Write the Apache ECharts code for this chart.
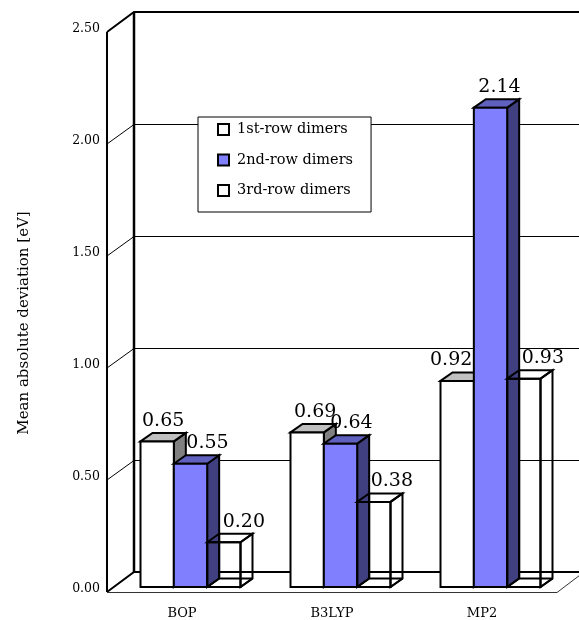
<!DOCTYPE html>
<html>
<head>
<meta charset="utf-8">
<style>
  html, body { margin: 0; padding: 0; background: #fff; }
  #chart { width: 579px; height: 620px; }
</style>
<script src="https://cdn.jsdelivr.net/npm/echarts@6/dist/echarts.min.js"></script>
</head>
<body>
<div id="chart"></div>
<script>
const categories = ['BOP', 'B3LYP', 'MP2']
const firstRow = [0.65, 0.69, 0.92]
const secondRow = [0.55, 0.64, 2.14]
const thirdRow = [0.20, 0.38, 0.93]
const yTicks = [0, 0.5, 1, 1.5, 2, 2.5]

const FONT = 'DejaVu Serif'
// depth of the box and of the bars, in px
const WALL_DX = 27
const WALL_DY = -20
const BAR_DX = 12
const BAR_DY = -8.5
const BAR_SHIFT_X = 8.5
const BAR_SHIFT_Y = -5
// labels were moved by hand in the original so they do not collide
const labelNudge = [
  [0, 2, -12],
  [11, 5, 3],
  [14, 12, 13]
]

const myChart = echarts.init(document.getElementById('chart'), null, { renderer: 'canvas' })

function wallItem(params, api) {
  const sys = params.coordSys
  const value = api.value(0)
  const y = api.coord([0, value])[1]
  const left = sys.x
  const right = sys.x + sys.width
  const isEdge = value === 0 || value === 2.5
  const backY = y + WALL_DY + (isEdge ? 0 : 0.5)
  const children = [{
    type: 'polyline',
    shape: {
      points: [[left, y], [left + WALL_DX, backY], [right + WALL_DX, backY]]
    },
    style: { stroke: '#000', lineWidth: isEdge ? 2 : 1, fill: null }
  }]
  if (value === 0) {
    children.push({
      type: 'polyline',
      shape: { points: [[left, y + 0.5], [right, y + 0.5], [right + WALL_DX, y + WALL_DY]] },
      style: { stroke: '#333', lineWidth: 1, fill: null }
    })
    children.push({
      type: 'line',
      shape: { x1: left, y1: y, x2: left, y2: sys.y },
      style: { stroke: '#000', lineWidth: 2 }
    })
    children.push({
      type: 'line',
      shape: { x1: left + WALL_DX, y1: y + WALL_DY, x2: left + WALL_DX, y2: sys.y + WALL_DY },
      style: { stroke: '#000', lineWidth: 2.5 }
    })
  }
  return { type: 'group', children }
}

function barRenderer(seriesIndex, front, top, side) {
  return function (params, api) {
    const cat = api.value(0)
    const value = api.value(1)
    const band = api.size([1, 0])[0]
    const w = band * 2 / 9
    const center = api.coord([cat, value])
    const base = api.coord([cat, 0])
    const x0 = center[0] + BAR_SHIFT_X + (seriesIndex - 1.5) * w
    const x1 = x0 + w
    const yTop = center[1] + BAR_SHIFT_Y
    const yBase = base[1] + BAR_SHIFT_Y
    const edge = { stroke: '#000', lineWidth: 2, lineJoin: 'miter' }
    const children = []
    // back edges only show on the see-through bars
    if (front === 'none') {
      children.push({
        type: 'polyline',
        shape: { points: [[x0, yBase], [x0 + BAR_DX, yBase + BAR_DY], [x1 + BAR_DX, yBase + BAR_DY]] },
        style: Object.assign({ fill: null }, edge)
      })
      children.push({
        type: 'line',
        shape: { x1: x0 + BAR_DX, y1: yBase + BAR_DY, x2: x0 + BAR_DX, y2: yTop + BAR_DY },
        style: edge
      })
      children.push({
        type: 'line',
        shape: { x1: x1, y1: yBase, x2: x1 + BAR_DX, y2: yBase + BAR_DY },
        style: edge
      })
    }
    children.push({
      type: 'polygon',
      shape: { points: [[x1, yBase], [x1 + BAR_DX, yBase + BAR_DY], [x1 + BAR_DX, yTop + BAR_DY], [x1, yTop]] },
      style: Object.assign({ fill: side }, edge)
    })
    children.push({
      type: 'polygon',
      shape: { points: [[x0, yTop], [x0 + BAR_DX, yTop + BAR_DY], [x1 + BAR_DX, yTop + BAR_DY], [x1, yTop]] },
      style: Object.assign({ fill: top }, edge)
    })
    children.push({
      type: 'rect',
      shape: { x: x0, y: yTop, width: w, height: yBase - yTop },
      style: Object.assign({ fill: front }, edge)
    })
    children.push({
      type: 'text',
      z2: 50,
      style: {
        text: value.toFixed(2),
        x: x0 + w / 2 + BAR_DX / 2 + labelNudge[seriesIndex][cat],
        y: yTop + BAR_DY - 12,
        align: 'center',
        verticalAlign: 'middle',
        fill: '#000',
        font: '19px "' + FONT + '"'
      }
    })
    return { type: 'group', children }
  }
}

function barData(values) {
  return values.map((v, i) => [i, v])
}

const option = {
  backgroundColor: '#fff',
  animation: false,
  textStyle: { fontFamily: FONT, color: '#000' },
  grid: { left: 107, top: 32, width: 450, height: 560 },
  legend: {
    orient: 'vertical',
    left: 198,
    top: 117,
    padding: [5, 18, 14, 19],
    itemWidth: 11,
    itemHeight: 11,
    itemGap: 15.5,
    backgroundColor: '#fff',
    borderColor: '#000',
    borderWidth: 1,
    textStyle: { fontFamily: FONT, fontSize: 14.5, color: '#000', padding: [0, 0, 0, 3] },
    data: [
      { name: '1st-row dimers', icon: 'rect', itemStyle: { color: '#fff', borderColor: '#000', borderWidth: 2 } },
      { name: '2nd-row dimers', icon: 'rect', itemStyle: { color: '#8080ff', borderColor: '#000', borderWidth: 2 } },
      { name: '3rd-row dimers', icon: 'rect', itemStyle: { color: '#fff', borderColor: '#000', borderWidth: 2 } }
    ]
  },
  xAxis: {
    type: 'category',
    data: categories,
    axisLine: { show: false },
    axisTick: { show: false },
    axisLabel: { fontFamily: FONT, fontSize: 13, color: '#000', margin: 15 }
  },
  yAxis: {
    type: 'value',
    min: 0,
    max: 2.5,
    interval: 0.5,
    axisLine: { show: false },
    axisTick: { show: false },
    splitLine: { show: false },
    axisLabel: {
      fontFamily: FONT,
      fontSize: 12.5,
      color: '#000',
      margin: 7,
      verticalAlign: 'bottom',
      lineHeight: 7,
      formatter: v => v.toFixed(2)
    },
    name: 'Mean absolute deviation [eV]',
    nameLocation: 'middle',
    nameGap: 75,
    nameTextStyle: { fontFamily: FONT, fontSize: 15, color: '#000', padding: [0, 22, 0, 0] }
  },
  series: [
    {
      name: 'walls',
      type: 'custom',
      renderItem: wallItem,
      encode: { y: 0 },
      data: yTicks.map(v => [v]),
      z: 1
    },
    {
      name: '1st-row dimers',
      type: 'custom',
      renderItem: barRenderer(0, '#fff', '#c0c0c0', '#808080'),
      encode: { x: 0, y: 1 },
      data: barData(firstRow),
      itemStyle: { color: '#fff' },
      z: 2
    },
    {
      name: '2nd-row dimers',
      type: 'custom',
      renderItem: barRenderer(1, '#8080ff', '#6060bf', '#404080'),
      encode: { x: 0, y: 1 },
      data: barData(secondRow),
      itemStyle: { color: '#8080ff' },
      z: 3
    },
    {
      name: '3rd-row dimers',
      type: 'custom',
      renderItem: barRenderer(2, 'none', 'none', 'none'),
      encode: { x: 0, y: 1 },
      data: barData(thirdRow),
      itemStyle: { color: '#fff' },
      z: 4
    }
  ]
}

myChart.setOption(option)
window.addEventListener('resize', () => {
  myChart.resize()
})
</script>
</body>
</html>
